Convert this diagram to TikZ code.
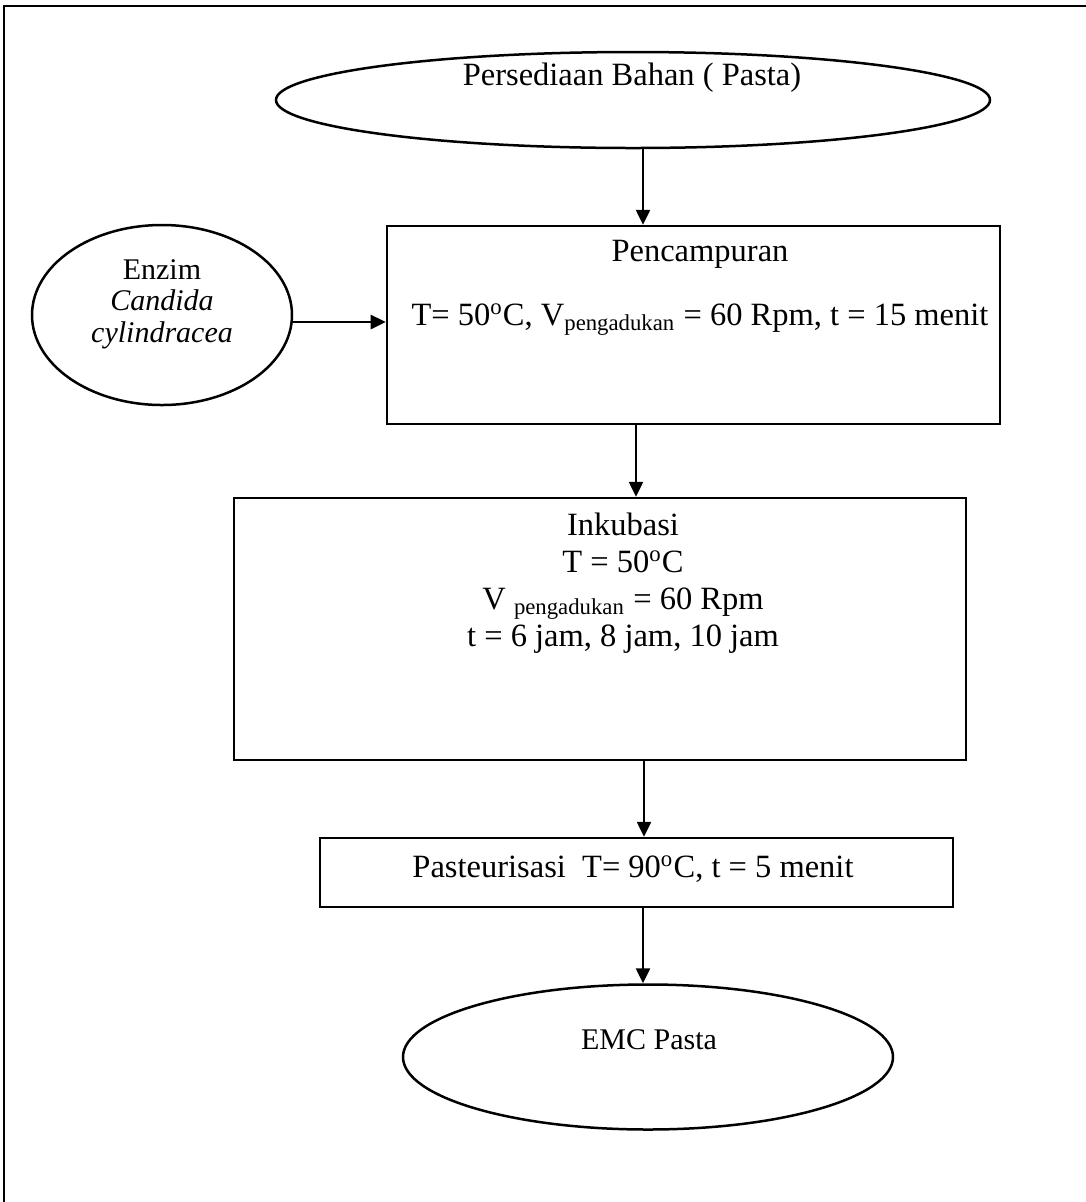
\documentclass[tikz,border=0pt]{standalone}
\usepackage{fontspec}
\setmainfont{Liberation Serif}
\usetikzlibrary{arrows.meta,shapes.geometric}
\tikzset{
  farrow/.style={-{Triangle[length=6pt,width=5.6pt]}, line width=1pt},
  procbox/.style={draw, rectangle, line width=1pt, inner sep=0pt},
  termoval/.style={draw, ellipse, line width=1pt, inner sep=0pt},
  lbl/.style={font=\fontsize{13pt}{14.8pt}\selectfont, align=center, inner sep=0pt},
  smalllbl/.style={lbl, font=\fontsize{12pt}{12.6pt}\selectfont}
}

\begin{document}
\begin{tikzpicture}[x=0.4pt, y=-0.4pt]
    \useasboundingbox (0,0) rectangle (1086,1202);
    \draw[line width=0.8pt] (4,1202) -- (4,6) -- (1086,6);
    \node[termoval, minimum width=285.6pt, minimum height=38.4pt] (start) at (633,100) {};
    \node[termoval, minimum width=104pt, minimum height=72pt] (enzim) at (162,315) {};
    \node[procbox, minimum width=245.2pt, minimum height=79.2pt] (mix) at (693.5,325) {};
    \node[procbox, minimum width=292.8pt, minimum height=104.8pt] (incub) at (600,629) {};
    \node[procbox, minimum width=253.2pt, minimum height=27.6pt] (past) at (636.5,872.5) {};
    \node[termoval, minimum width=196pt, minimum height=58pt] (emc) at (648,1057) {};
    \node[lbl] (starttxt) at (632,78) {Persediaan Bahan ( Pasta)};
    \node[smalllbl] (enzimtxt) at (162,304)
      {Enzim\\\textit{Candida}\\\textit{cylindracea}};
    \node[lbl] (mixtxt) at (700,288)
      {Pencampuran\\[10.8pt]T= 50\textsuperscript{o}C, V\textsubscript{pengadukan} = 60 Rpm, t = 15 menit};
    \node[lbl] (incubtxt) at (623,583)
      {Inkubasi\\T = 50\textsuperscript{o}C\\V \textsubscript{pengadukan} = 60 Rpm\\t = 6 jam, 8 jam, 10 jam};
    \node[lbl] (pasttxt) at (633,869) {Pasteurisasi\ \ T= 90\textsuperscript{o}C, t = 5 menit};
    \node[smalllbl] (emctxt) at (649,1040) {EMC Pasta};
    \draw[farrow] ([xshift=4pt]start.south) -- ([xshift=4pt]start.south |- mix.north);
    \draw[farrow] ([yshift=-2.8pt]enzim.east) -- ([yshift=-2.8pt]enzim.east -| mix.west);
    \draw[farrow] ([xshift=-23pt]mix.south) -- ([xshift=-23pt]mix.south |- incub.north);
    \draw[farrow] ([xshift=17.6pt]incub.south) -- ([xshift=17.6pt]incub.south |- past.north);
    \draw[farrow] ([xshift=2.6pt]past.south) -- ([xshift=2.6pt]past.south |- emc.north);
  \end{tikzpicture}
\end{document}
